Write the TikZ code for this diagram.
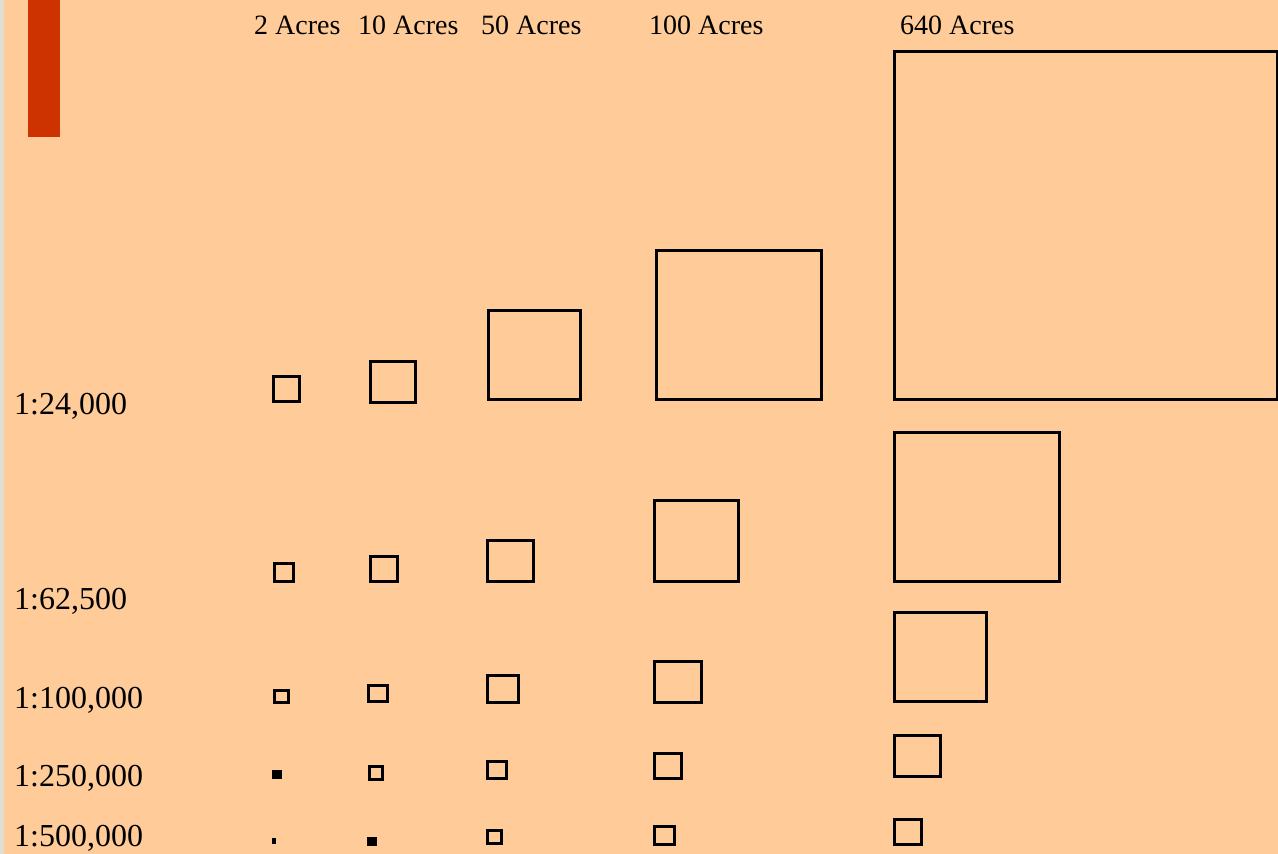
\documentclass[tikz,border=0pt]{standalone}
\usepackage{fontspec}
\setmainfont{Liberation Serif}
\definecolor{bgpeach}{HTML}{FFCC99}
\definecolor{barred}{HTML}{CC3300}
\definecolor{stripgrey}{HTML}{E2DDD1}
\tikzset{
  sq/.style={draw=black, line width=2.1pt},
  fsq/.style={fill=black},
  toplab/.style={anchor=base west, inner sep=0pt, font=\fontsize{28}{30}\selectfont},
  rowlab/.style={anchor=base west, inner sep=0pt, font=\fontsize{32}{34}\selectfont},
}
\begin{document}
\begin{tikzpicture}[x=1pt, y=-1pt]
\useasboundingbox (0,0) rectangle (1278,854);
\fill[bgpeach] (0,0) rectangle (1278,854);
\fill[stripgrey] (0,0) rectangle (4,854);
\fill[barred] (28,0) rectangle (60,137);
% column labels
\node[toplab] (c2) at (254,34) {2 Acres};
\node[toplab] (c10) at (358,34) {10 Acres};
\node[toplab] (c50) at (481,34) {50 Acres};
\node[toplab] (c100) at (649,34) {100 Acres};
\node[toplab] (c640) at (900,34) {640 Acres};
% row labels
\node[rowlab] (r24) at (14,414) {1:24,000};
\node[rowlab] (r62) at (14,609) {1:62,500};
\node[rowlab] (r100) at (14,708) {1:100,000};
\node[rowlab] (r250) at (14,786) {1:250,000};
\node[rowlab] (r500) at (14,846) {1:500,000};
% row 1:24,000
\draw[sq] (273.5,376.5) rectangle (299.5,401.5);
\draw[sq] (370.5,361.5) rectangle (415.5,402.5);
\draw[sq] (488.5,310.5) rectangle (580.5,399.5);
\draw[sq] (656.5,250.5) rectangle (821.5,399.5);
\draw[sq] (894.5,51.5) rectangle (1277,399.5);
% row 1:62,500
\draw[sq] (274.5,563.5) rectangle (293.5,581.5);
\draw[sq] (370.5,556.5) rectangle (397.5,581.5);
\draw[sq] (487.5,540.5) rectangle (533.5,581.5);
\draw[sq] (654.5,500.5) rectangle (738.5,581.5);
\draw[sq] (894.5,432.5) rectangle (1059.5,581.5);
% row 1:100,000
\draw[sq] (274.5,690.5) rectangle (288.5,702.5);
\draw[sq] (368.5,685.5) rectangle (387.5,701.5);
\draw[sq] (487.5,675.5) rectangle (518.5,702.5);
\draw[sq] (654.5,661.5) rectangle (701.5,702.5);
\draw[sq] (894.5,612.5) rectangle (986.5,701.5);
% row 1:250,000
\fill[fsq] (272,770) rectangle (282,779);
\draw[sq] (369.5,766.5) rectangle (382.5,779.5);
\draw[sq] (487.5,761.5) rectangle (506.5,778.5);
\draw[sq] (654.5,753.5) rectangle (681.5,778.5);
\draw[sq] (894.5,735.5) rectangle (940.5,776.5);
% row 1:500,000
\fill[fsq] (272,838) rectangle (276,844);
\fill[fsq] (367,837) rectangle (377,846);
\draw[sq] (487.5,830.5) rectangle (501.5,843.5);
\draw[sq] (654.5,826.5) rectangle (674.5,844.5);
\draw[sq] (894.5,819.5) rectangle (921.5,844.5);
\end{tikzpicture}
\end{document}
